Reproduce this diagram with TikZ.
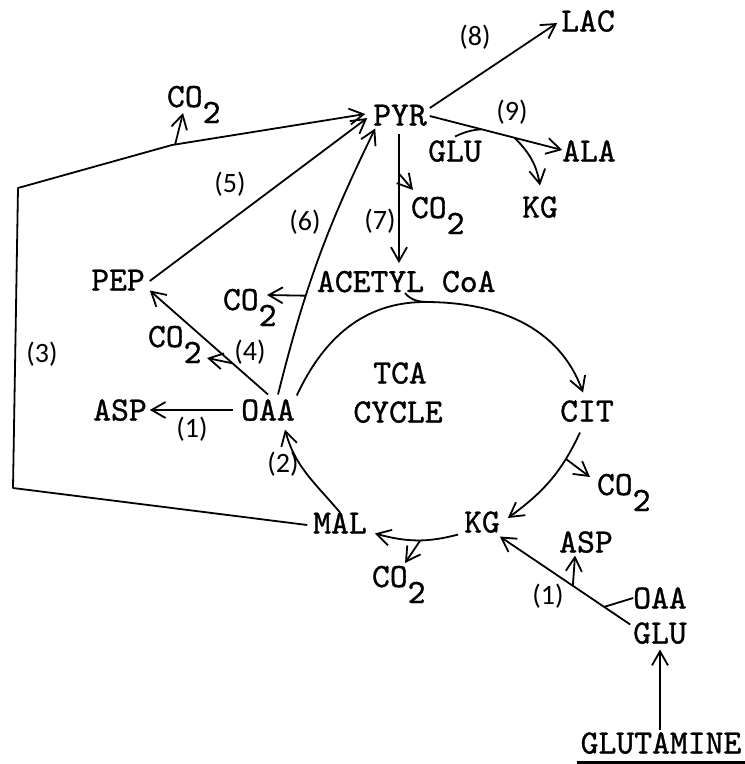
\documentclass[tikz,border=0pt]{standalone}
\usepackage{fontspec}
\usetikzlibrary{arrows.meta,calc}
\newfontfamily\tyfont{lmmono10-regular}[Extension=.otf,FakeBold=1]
\newfontfamily\lblfont{Carlito}
\newcommand{\cotwo}{CO\raisebox{-16pt}{2}}
\begin{document}
\begin{tikzpicture}[x=1pt,y=-1pt,
  every node/.style={inner sep=0pt,outer sep=0pt,font=\fontsize{34}{40}\selectfont\tyfont,text height=21pt,text depth=0pt},
  lbl/.style={font=\fontsize{28}{32}\selectfont\lblfont,text height=20pt,text depth=6pt},
  ln/.style={line width=1.8pt,line join=round},
  arr/.style={ln,-{Straight Barb[length=14pt,width=16pt]}},
  co/.style={anchor=base west}]
\useasboundingbox (0,0) rectangle (745,764);
% species
\node (PYR) at (400,115) {PYR};
\node (LAC) at (588,21) {LAC};
\node (ALA) at (589,151) {ALA};
\node (GLUa) at (455,151) {GLU};
\node (KGa) at (540,207) {KG};
\node[co] (CO2a) at (167,107) {\cotwo};
\node[co] (CO2b) at (411,218) {\cotwo};
\node[co] (CO2c) at (223,310) {\cotwo};
\node[co] (CO2d) at (148,347) {\cotwo};
\node[co] (CO2e) at (597,495) {\cotwo};
\node[co] (CO2f) at (372,587) {\cotwo};
\node (PEP) at (118,280) {PEP};
\node (ASP) at (120,410) {ASP};
\node (OAA) at (268,410) {OAA};
\node[co] (ACoA) at (317,292) {ACETYL CoA};
\node (TCA) at (400,373) {TCA};
\node (CYC) at (398,412) {CYCLE};
\node (CIT) at (587,411) {CIT};
\node (KG) at (482,522) {KG};
\node (MAL) at (340,523) {MAL};
\node (ASPb) at (586,542) {ASP};
\node (OAAb) at (660,598) {OAA};
\node (GLUb) at (660,633) {GLU};
\node (GLUT) at (661,743) {GLUTAMINE};
% reaction labels
\node[lbl] (L8) at (475,38) {(8)};
\node[lbl] (L9) at (512,113) {(9)};
\node[lbl] (L5) at (230,185) {(5)};
\node[lbl] (L6) at (305,223) {(6)};
\node[lbl] (L7) at (380,222) {(7)};
\node[lbl] (L3) at (42,355) {(3)};
\node[lbl] (L4) at (250,353) {(4)};
\node[lbl] (L1) at (192,430) {(1)};
\node[lbl] (L2) at (283,465) {(2)};
\node[lbl] (L1b) at (548,597) {(1)};
% (3) malic enzyme path
\coordinate (c3a) at (13,488);
\coordinate (c3b) at (18,188);
\coordinate (b3) at (172,145);
\draw[arr] ($(MAL.west)+(-6,2)$) -- (c3a) -- (c3b) -- (b3) -- ($(PYR.west)+(-8,-1)$);
\draw[arr] ($(b3)+(3,0)$) -- ($(CO2a.base west)+(16,6)$);
% (5)
\draw[arr] ($(PEP.east)+(5,1)$) -- ($(PYR.west)+(-6,3)$);
% (6)
\draw[arr] ($(OAA.north)+(10,-5)$) to[bend left=6] coordinate[pos=0.35] (b6) ($(PYR.south west)+(2,3)$);
\draw[arr] (b6) -- ($(CO2c.base west)+(44,-15)$);
% (4)
\draw[arr] ($(OAA.north)+(0,-5)$) -- coordinate[pos=0.3] (b4) ($(PEP.south east)+(5,0)$);
\draw[arr] (b4) -- ($(CO2d.base west)+(59,11)$);
% (1)
\draw[arr] ($(OAA.west)+(-8,0)$) -- ($(ASP.east)+(3,0)$);
% (2)
\draw[arr] (MAL.north) to[out=130,in=-75] ($(OAA.south)+(17,9)$);
% TCA cycle
\coordinate (tcatop) at (425,302);
\draw[arr] ($(OAA.north east)+(2,-4)$) to[out=65,in=180] (tcatop) to[out=0,in=110] ($(CIT.north)+(-4,-8)$);
\draw[ln] ($(ACoA.base west)+(88,1)$) to[out=-50,in=180] ($(tcatop)+(6,0)$);
\draw[arr] ($(CIT.south)+(-7,11)$) to[out=-115,in=36] coordinate[pos=0.25] (bCIT) ($(KG.east)+(8,-4)$);
\draw[arr] (bCIT) -- ($(CO2e.base west)+(-7,-18)$);
\draw[arr] ($(KG.south west)+(-6,2)$) to[out=195,in=-15] coordinate[pos=0.45] (bKG) ($(MAL.south east)+(8,0)$);
\draw[arr] (bKG) -- ($(CO2f.base west)+(33,-24)$);
% glutamine entry
\draw[arr] ($(GLUb.north west)+(-3,2)$) -- coordinate[pos=0.2] (jOAA) coordinate[pos=0.44] (bASP) ($(KG.south east)+(0,4)$);
\draw[arr] (bASP) -- ($(ASPb.south)+(-11,3)$);
\draw[ln] (OAAb.west) -- (jOAA);
\draw[arr] ($(GLUT.north)+(-1,-3)$) -- ($(GLUb.south)+(0,6)$);
\draw[line width=3pt] ($(GLUT.south west)+(-4,9)$) -- ($(GLUT.south east)+(4,9)$);
% pyruvate outputs
\draw[arr] ($(PYR.east)+(3,-7)$) -- ($(LAC.west)+(-4,2)$);
\draw[arr] ($(PYR.east)+(3,1)$) -- coordinate[pos=0.39] (jGLU) coordinate[pos=0.64] (bKGa) ($(ALA.west)+(0,-1)$);
\draw[ln] ($(GLUa.north)+(0,-4)$) to[out=25,in=185] (jGLU);
\draw[arr] (bKGa) to[out=-45,in=100] ($(KGa.north)+(0,-11)$);
\draw[arr] ($(PYR.south)+(-1,8)$) -- coordinate[pos=0.31] (b7) ($(ACoA.base west)+(82,-29)$);
\draw[arr] (b7) -- ($(CO2b.base west)+(2,-28)$);
\end{tikzpicture}
\end{document}
